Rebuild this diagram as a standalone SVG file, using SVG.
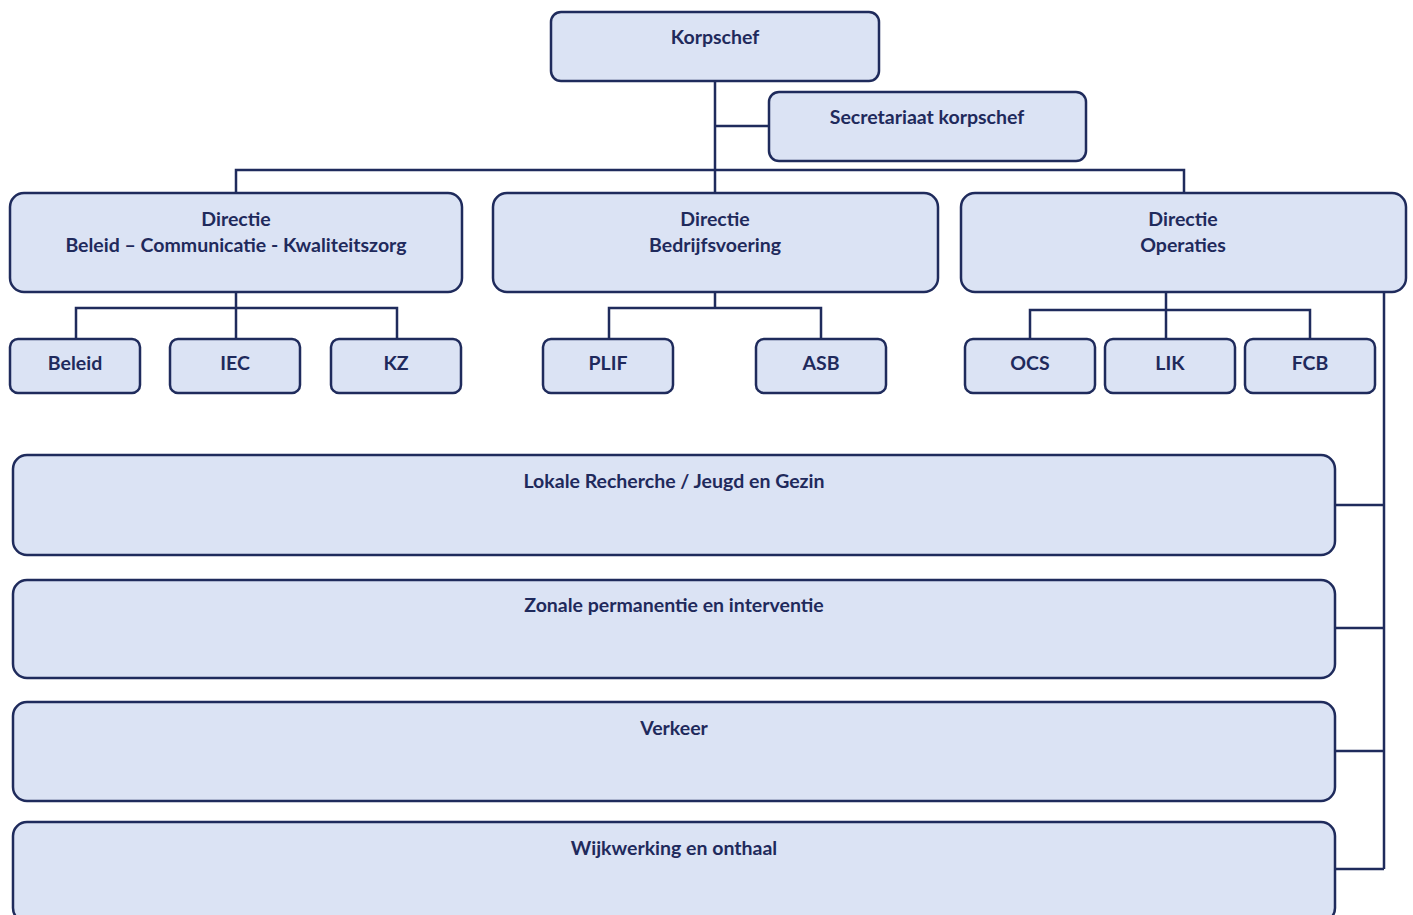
<svg xmlns="http://www.w3.org/2000/svg" width="1413" height="915" viewBox="0 0 1413 915">
<style>
.box{fill:#dbe3f4;stroke:#1f2b5c;stroke-width:2.5}
.t{font-family:Lato,"Liberation Sans",sans-serif;font-weight:700;font-size:19.5px;fill:#1f2a5c;text-anchor:middle}
.c{fill:none;stroke:#1f2b5c;stroke-width:2.5}
</style>
<rect width="1413" height="915" fill="#ffffff"/>
<g id="connectors">
<path class="c" d="M715,81 V193 M715,126 H769 M236,193 V170 H1184 V193"/>
<path class="c" d="M236,292 V308 M76,339 V308 H397 V339 M236,308 V339"/>
<path class="c" d="M715,292 V308 M609,339 V308 H821 V339"/>
<path class="c" d="M1166,292 V339 M1030,339 V310 H1310 V339"/>
<path class="c" d="M1384,292 V869 M1335,505 H1384 M1335,628 H1384 M1335,751 H1384 M1335,869 H1384"/>
</g>
<g id="korpschef"><rect class="box" x="551" y="12" width="328" height="69" rx="10"/><text class="t" x="715" y="44">Korpschef</text></g>
<g id="secretariaat"><rect class="box" x="769" y="92" width="317" height="69" rx="10"/><text class="t" x="927" y="124">Secretariaat korpschef</text></g>
<g id="dir-bck"><rect class="box" x="10" y="193" width="452" height="99" rx="14"/><text class="t" x="236" y="226">Directie</text><text class="t" x="236" y="252">Beleid – Communicatie - Kwaliteitszorg</text></g>
<g id="dir-bv"><rect class="box" x="493" y="193" width="445" height="99" rx="14"/><text class="t" x="715" y="226">Directie</text><text class="t" x="715" y="252">Bedrijfsvoering</text></g>
<g id="dir-op"><rect class="box" x="961" y="193" width="445" height="99" rx="14"/><text class="t" x="1183" y="226">Directie</text><text class="t" x="1183" y="252">Operaties</text></g>
<g id="beleid"><rect class="box" x="10" y="339" width="130" height="54" rx="8"/><text class="t" x="75" y="370">Beleid</text></g>
<g id="iec"><rect class="box" x="170" y="339" width="130" height="54" rx="8"/><text class="t" x="235" y="370">IEC</text></g>
<g id="kz"><rect class="box" x="331" y="339" width="130" height="54" rx="8"/><text class="t" x="396" y="370">KZ</text></g>
<g id="plif"><rect class="box" x="543" y="339" width="130" height="54" rx="8"/><text class="t" x="608" y="370">PLIF</text></g>
<g id="asb"><rect class="box" x="756" y="339" width="130" height="54" rx="8"/><text class="t" x="821" y="370">ASB</text></g>
<g id="ocs"><rect class="box" x="965" y="339" width="130" height="54" rx="8"/><text class="t" x="1030" y="370">OCS</text></g>
<g id="lik"><rect class="box" x="1105" y="339" width="130" height="54" rx="8"/><text class="t" x="1170" y="370">LIK</text></g>
<g id="fcb"><rect class="box" x="1245" y="339" width="130" height="54" rx="8"/><text class="t" x="1310" y="370">FCB</text></g>
<g id="lokale-recherche"><rect class="box" x="13" y="455" width="1322" height="100" rx="14"/><text class="t" x="674" y="488">Lokale Recherche / Jeugd en Gezin</text></g>
<g id="zonale"><rect class="box" x="13" y="580" width="1322" height="98" rx="14"/><text class="t" x="674" y="612">Zonale permanentie en interventie</text></g>
<g id="verkeer"><rect class="box" x="13" y="702" width="1322" height="99" rx="14"/><text class="t" x="674" y="735">Verkeer</text></g>
<g id="wijkwerking"><rect class="box" x="13" y="822" width="1322" height="100" rx="14"/><text class="t" x="674" y="855">Wijkwerking en onthaal</text></g>
</svg>
